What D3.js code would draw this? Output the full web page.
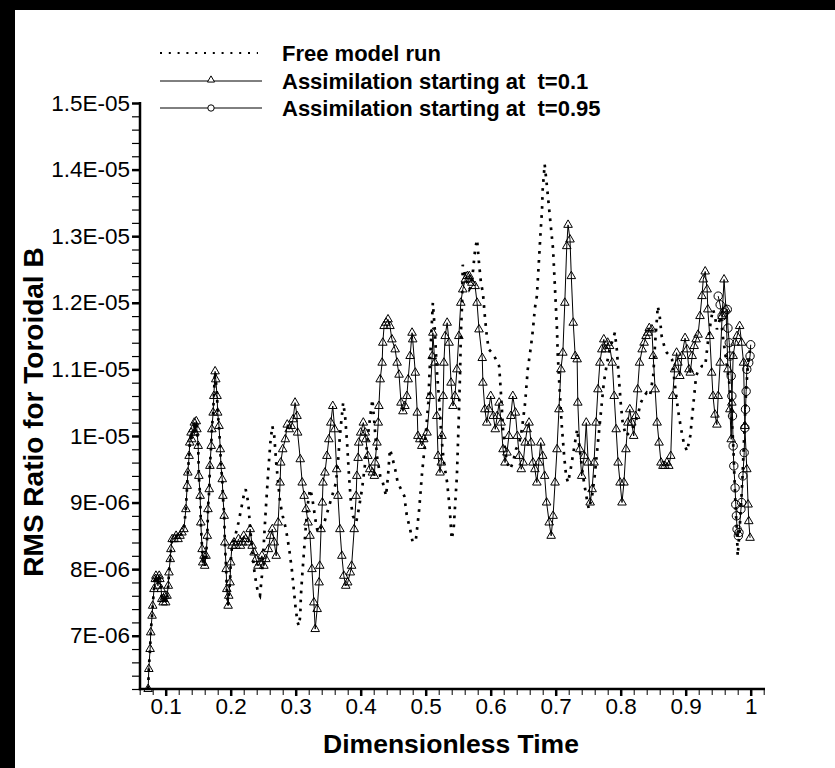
<!DOCTYPE html>
<html>
<head>
<meta charset="utf-8">
<script src="https://cdn.jsdelivr.net/npm/d3@7"></script>
<style>
  body { margin: 0; background: #fff; }
  svg { display: block; }
  text { font-family: "Liberation Sans", Arial, Helvetica, sans-serif; fill: #000; white-space: pre; }
</style>
</head>
<body>
<svg id="chart" width="835" height="768"></svg>
<script>
// RMS values are given in units of 1e-6.
const RMS_UNIT = 1e-6;

// Free model run: [dimensionless time, RMS ratio]
const freeRun = [
  [.073,6.2],[.074,6.5],[.076,6.8],[.077,7.05],[.079,7.3],[.080,7.45],[.082,7.7],[.084,7.85],[.085,7.9],[.087,7.85],
  [.088,7.75],[.090,7.9],[.091,7.85],[.093,7.7],[.094,7.55],[.096,7.5],[.097,7.55],[.099,7.6],[.100,7.5],[.102,7.6],
  [.104,7.75],[.105,7.95],[.107,8.15],[.108,8.3],[.110,8.45],[.113,8.45],[.116,8.5],[.119,8.45],[.122,8.5],[.125,8.55],
  [.128,8.6],[.131,8.9],[.133,9.25],[.134,9.45],[.136,9.7],[.137,9.9],[.139,10.05],[.140,9.95],[.142,10.1],[.144,10.2],
  [.145,10.05],[.147,10.22],[.148,10.1],[.150,9.85],[.151,9.4],[.153,9.1],[.154,8.7],[.156,8.3],[.157,8.1],[.159,8.2],
  [.160,8.05],[.162,8.2],[.164,8.5],[.165,8.9],[.167,9.2],[.168,9.55],[.170,9.85],[.171,10.1],[.173,10.35],[.174,10.6],
  [.176,10.97],[.177,10.85],[.179,10.6],[.180,10.35],[.182,10.15],[.184,9.8],[.185,9.55],[.187,9.35],[.188,9.1],[.190,8.8],
  [.191,8.4],[.193,8.0],[.194,7.7],[.196,7.45],[.197,7.6],[.199,7.8],[.200,8.1],[.202,8.35],[.207,8.5],[.212,8.7],
  [.216,8.9],[.220,9.1],[.223,9.2],[.227,9.0],[.230,8.6],[.233,8.3],[.236,8.0],[.239,7.8],[.242,7.65],[.245,7.6],
  [.248,7.9],[.251,8.4],[.254,8.9],[.258,9.5],[.261,9.9],[.264,10.15],[.267,10.0],[.270,9.6],[.273,9.3],[.276,9.0],
  [.280,8.8],[.285,8.6],[.290,8.3],[.294,8.0],[.297,7.7],[.300,7.4],[.303,7.2],[.305,7.15],[.307,7.3],[.308,7.6],
  [.310,7.9],[.313,8.3],[.316,8.7],[.319,9.0],[.322,9.2],[.325,9.1],[.328,8.9],[.331,8.7],[.334,8.55],[.337,8.6],
  [.344,8.7],[.350,8.9],[.356,9.1],[.362,9.3],[.365,9.6],[.368,10.0],[.371,10.3],[.373,10.5],[.376,10.3],[.379,9.9],
  [.382,9.4],[.385,9.0],[.388,8.8],[.393,8.7],[.397,8.9],[.402,9.2],[.407,9.6],[.411,10.0],[.416,10.4],[.418,10.55],
  [.421,10.2],[.425,9.7],[.430,9.4],[.434,9.3],[.439,9.1],[.442,9.4],[.445,9.8],[.448,9.7],[.453,9.5],[.457,9.3],
  [.462,9.2],[.467,9.1],[.471,8.8],[.476,8.6],[.480,8.4],[.485,8.45],[.490,8.9],[.494,9.4],[.499,9.9],[.504,10.5],
  [.507,11.2],[.510,11.8],[.511,12.0],[.514,11.6],[.517,11.0],[.521,10.5],[.524,10.0],[.528,9.6],[.533,9.3],[.537,8.9],
  [.540,8.45],[.543,8.6],[.548,9.4],[.551,10.3],[.553,11.0],[.554,11.5],[.556,12.0],[.557,12.57],[.561,12.4],[.564,12.3],
  [.567,12.2],[.570,12.25],[.573,12.5],[.576,12.8],[.579,12.95],[.582,12.6],[.585,12.3],[.588,12.15],[.591,11.8],[.594,11.5],
  [.597,11.3],[.602,11.25],[.607,11.17],[.610,11.1],[.613,11.05],[.616,10.6],[.619,10.1],[.622,9.8],[.625,9.6],[.630,9.5],
  [.634,9.6],[.639,9.8],[.644,9.9],[.648,10.1],[.653,10.5],[.657,11.0],[.662,11.35],[.665,11.6],[.668,11.92],[.671,12.1],
  [.674,12.6],[.677,13.1],[.679,13.4],[.680,13.7],[.682,13.95],[.683,14.08],[.686,13.8],[.690,13.4],[.693,13.1],[.696,12.8],
  [.699,12.2],[.702,11.6],[.703,11.25],[.706,10.7],[.709,10.2],[.713,9.7],[.716,9.4],[.719,9.3],[.723,9.5],[.728,9.8],
  [.733,10.1],[.737,9.8],[.742,9.4],[.747,9.1],[.751,8.9],[.756,9.1],[.760,9.4],[.765,9.9],[.770,10.4],[.774,10.8],
  [.779,11.1],[.783,11.3],[.788,11.45],[.791,11.55],[.794,11.3],[.797,10.9],[.800,10.5],[.803,10.2],[.808,10.0],[.813,10.05],
  [.817,10.1],[.822,10.2],[.826,10.3],[.831,10.5],[.836,10.6],[.840,10.65],[.845,10.6],[.850,10.9],[.853,11.4],[.856,11.8],
  [.857,11.95],[.860,11.8],[.863,11.5],[.867,11.35],[.871,11.25],[.876,11.2],[.879,11.15],[.883,10.8],[.888,10.4],[.893,10.1],
  [.897,9.9],[.902,9.77],[.907,10.0],[.911,10.4],[.916,10.9],[.920,11.0],[.925,11.05],[.930,11.05],[.934,11.4],[.939,11.75],
  [.942,11.9],[.945,11.8],[.948,11.6],[.951,11.7],[.954,11.8],[.957,11.5],[.960,11.3],[.964,11.0],[.967,10.8],[.970,10.4],
  [.973,9.9],[.976,9.1],[.979,8.5],[.980,8.2],[.983,8.6],[.987,9.3],[.990,10.0],[.993,10.7],[.996,11.1],[.999,11.3]
];

// Assimilation starting at t=0.1
const assimFrom010 = [
  [.073,6.2],[.074,6.5],[.076,6.8],[.077,7.05],[.079,7.3],[.080,7.45],[.082,7.7],[.084,7.85],[.085,7.9],[.087,7.85],
  [.088,7.75],[.090,7.9],[.091,7.85],[.093,7.7],[.094,7.55],[.096,7.5],[.097,7.55],[.099,7.6],[.100,7.5],[.102,7.6],
  [.104,7.75],[.105,7.95],[.107,8.15],[.108,8.3],[.110,8.45],[.113,8.45],[.116,8.5],[.119,8.45],[.122,8.5],[.125,8.55],
  [.128,8.6],[.131,8.9],[.133,9.25],[.134,9.45],[.136,9.7],[.137,9.9],[.139,10.05],[.140,9.95],[.142,10.1],[.144,10.2],
  [.145,10.05],[.147,10.22],[.148,10.1],[.150,9.85],[.151,9.4],[.153,9.1],[.154,8.7],[.156,8.3],[.157,8.1],[.159,8.2],
  [.160,8.05],[.162,8.2],[.164,8.5],[.165,8.9],[.167,9.2],[.168,9.55],[.170,9.85],[.171,10.1],[.173,10.35],[.174,10.6],
  [.176,10.97],[.177,10.85],[.179,10.6],[.180,10.35],[.182,10.15],[.184,9.8],[.185,9.55],[.187,9.35],[.188,9.1],[.190,8.8],
  [.191,8.4],[.193,8.0],[.194,7.7],[.196,7.45],[.197,7.6],[.199,7.8],[.200,8.1],[.202,8.35],[.205,8.4],[.208,8.35],
  [.212,8.45],[.215,8.35],[.218,8.4],[.220,8.5],[.223,8.45],[.227,8.4],[.230,8.6],[.233,8.35],[.236,8.25],[.239,8.15],
  [.242,8.05],[.245,8.1],[.248,8.2],[.251,8.05],[.254,8.15],[.258,8.3],[.261,8.5],[.264,8.6],[.267,8.4],[.270,8.2],
  [.273,8.7],[.276,9.3],[.277,9.6],[.280,9.8],[.284,9.95],[.287,10.17],[.290,10.1],[.293,10.15],[.296,10.25],[.299,10.5],
  [.302,10.3],[.303,10.05],[.307,9.65],[.310,9.3],[.313,9.1],[.316,8.9],[.319,8.7],[.322,8.5],[.325,8.0],[.328,7.5],
  [.330,7.1],[.333,7.4],[.336,7.8],[.337,8.05],[.339,8.6],[.341,9.0],[.342,9.3],[.345,9.45],[.348,9.7],[.351,9.95],
  [.354,10.2],[.357,10.45],[.360,10.1],[.363,9.5],[.365,9.1],[.368,8.6],[.371,8.2],[.374,7.9],[.377,7.75],[.380,7.8],
  [.384,7.95],[.386,8.05],[.390,8.6],[.393,9.1],[.394,9.4],[.396,9.67],[.397,9.9],[.400,10.05],[.404,10.2],[.407,10.05],
  [.408,9.95],[.411,9.7],[.414,9.5],[.418,9.45],[.421,9.4],[.422,9.6],[.425,9.9],[.427,10.2],[.428,10.45],[.430,10.85],
  [.433,11.1],[.434,11.4],[.436,11.65],[.439,11.7],[.442,11.75],[.445,11.65],[.448,11.45],[.453,11.3],[.456,11.1],[.459,10.92],
  [.462,10.5],[.465,10.37],[.468,10.45],[.471,10.6],[.473,10.85],[.476,11.2],[.479,11.55],[.480,11.45],[.484,10.95],[.487,10.35],
  [.488,10.0],[.491,9.95],[.494,9.85],[.497,9.95],[.502,10.05],[.507,10.6],[.510,11.2],[.511,11.55],[.514,11.1],[.517,10.3],
  [.519,9.7],[.522,9.45],[.524,9.6],[.525,10.0],[.527,10.6],[.528,11.1],[.530,11.5],[.533,11.7],[.536,11.4],[.539,10.8],
  [.542,10.45],[.545,10.6],[.548,11.0],[.551,11.5],[.554,12.0],[.557,12.2],[.561,12.35],[.564,12.4],[.567,12.4],[.568,12.35],
  [.571,12.3],[.576,12.25],[.579,12.0],[.582,11.6],[.587,11.17],[.588,10.8],[.591,10.4],[.594,10.2],[.597,10.4],[.600,10.6],
  [.604,10.3],[.607,10.1],[.610,10.3],[.613,10.5],[.616,10.2],[.619,9.8],[.622,9.6],[.625,9.75],[.628,10.0],[.631,10.3],
  [.634,10.6],[.638,10.35],[.641,10.0],[.644,9.7],[.647,9.5],[.650,9.6],[.653,9.9],[.656,10.1],[.659,10.2],[.662,9.9],
  [.665,9.6],[.668,9.5],[.671,9.3],[.674,9.6],[.677,9.9],[.680,9.7],[.683,9.4],[.686,9.0],[.690,8.7],[.693,8.5],
  [.696,8.8],[.699,9.3],[.702,9.8],[.705,10.4],[.708,11.0],[.711,11.25],[.714,12.0],[.717,12.85],[.719,13.17],[.722,12.95],
  [.724,12.4],[.727,11.7],[.730,11.2],[.733,11.15],[.734,10.5],[.737,9.8],[.740,9.4],[.744,9.7],[.747,10.2],[.750,9.6],
  [.753,9.0],[.756,9.2],[.759,9.6],[.762,10.2],[.765,10.7],[.768,11.1],[.771,11.3],[.774,11.45],[.777,11.3],[.780,11.4],
  [.783,11.35],[.787,11.1],[.790,10.6],[.793,10.1],[.796,9.6],[.799,9.3],[.802,9.0],[.805,9.3],[.808,9.8],[.811,10.2],
  [.814,10.4],[.817,10.2],[.820,10.0],[.823,10.3],[.826,10.7],[.829,11.1],[.833,11.3],[.836,11.4],[.839,11.5],[.842,11.55],
  [.844,11.62],[.848,11.6],[.850,11.2],[.853,10.7],[.856,10.2],[.859,9.9],[.862,9.6],[.865,9.55],[.868,9.55],[.871,9.6],
  [.874,9.55],[.877,9.7],[.880,10.6],[.883,11.0],[.886,11.25],[.888,11.1],[.891,10.9],[.894,11.2],[.899,11.47],[.902,11.3],
  [.905,11.0],[.907,10.95],[.910,11.2],[.913,11.35],[.916,11.45],[.919,11.52],[.922,11.8],[.925,12.1],[.927,12.35],[.930,12.47],
  [.933,12.2],[.934,11.9],[.937,11.5],[.940,10.95],[.942,10.6],[.945,10.32],[.948,10.17],[.950,10.6],[.953,11.1],[.956,11.8],
  [.959,12.35],[.962,11.9],[.965,11.0],[.968,10.4],[.970,9.95],[.971,10.5],[.973,11.2],[.976,11.4],[.979,11.5],[.983,11.65],
  [.986,11.4],[.989,11.1],[.991,10.15],[.994,9.5],[.996,8.97],[.997,8.72],[.999,8.47]
];

// Assimilation starting at t=0.95
const assimFrom095 = [
  [.950,12.1],[.953,11.97],[.956,11.8],[.959,11.85],[.964,11.9],[.965,11.62],[.967,11.4],[.968,11.2],[.970,10.9],[.971,10.6],
  [.972,10.3],[.973,9.85],[.974,9.55],[.976,9.22],[.977,8.97],[.978,8.8],[.979,8.6],[.981,8.5],[.982,8.55],[.985,8.9],
  [.986,9.0],[.988,9.4],[.990,9.75],[.991,10.12],[.992,10.4],[.993,10.67],[.994,11.0],[.997,11.1],[.999,11.2],[1.000,11.37]
];

const seriesNames = ["Free model run", "Assimilation starting at  t=0.1", "Assimilation starting at  t=0.95"];

const xMajorTicks = [0.1, 0.2, 0.3, 0.4, 0.5, 0.6, 0.7, 0.8, 0.9, 1];
const xTickLabels = ["0.1", "0.2", "0.3", "0.4", "0.5", "0.6", "0.7", "0.8", "0.9", "1"];
const yMajorTicks = [7, 8, 9, 10, 11, 12, 13, 14, 15];
const yTickLabels = ["7E-06", "8E-06", "9E-06", "1E-05", "1.1E-05", "1.2E-05", "1.3E-05", "1.4E-05", "1.5E-05"];

const xTitle = "Dimensionless Time";
const yTitle = "RMS Ratio for Toroidal B";

// ---- drawing ----
const svg = d3.select("#chart");

// dark frame strips along the top and left edges
svg.append("rect").attr("x", 0).attr("y", 0).attr("width", 835).attr("height", 10).attr("fill", "#000");
svg.append("rect").attr("x", 0).attr("y", 0).attr("width", 15).attr("height", 768).attr("fill", "#000");

const x = d3.scaleLinear().domain([0.06, 1.022]).range([139.7, 765]);
const y = d3.scaleLinear().domain([6.2 * RMS_UNIT, 15 * RMS_UNIT]).range([689, 103]);

const px = d => x(d[0]);
const py = d => y(d[1] * RMS_UNIT);

// minor tick positions
const xMinor = d3.range(0.06, 1.0221, 0.02).filter(v => !xMajorTicks.some(m => Math.abs(m - v) < 1e-6));
const yMinor = d3.range(6.2, 15.001, 0.2).filter(v => !yMajorTicks.some(m => Math.abs(m - v) < 1e-6));

const tickFont = 22.5;

// x axis
const gx = svg.append("g").attr("transform", "translate(0,689)");
gx.append("g").call(
  d3.axisBottom(x).tickValues(xMinor).tickSize(6).tickFormat("").tickSizeOuter(0)
).call(g => { g.select(".domain").remove(); g.selectAll("line").attr("stroke-width", 1); });
gx.append("g").call(
  d3.axisBottom(x).tickValues(xMajorTicks).tickSize(7).tickPadding(2)
    .tickFormat((d, i) => xTickLabels[i]).tickSizeOuter(0)
).call(g => {
  g.select(".domain").remove();
  g.selectAll("line").attr("stroke-width", 2.5);
  g.selectAll("text").attr("font-size", tickFont).attr("fill", "#000");
});

// y axis
const gy = svg.append("g").attr("transform", "translate(140,0)");
gy.append("g").call(
  d3.axisLeft(y).tickValues(yMinor.map(v => v * RMS_UNIT)).tickSize(8).tickFormat("").tickSizeOuter(0)
).call(g => { g.select(".domain").remove(); g.selectAll("line").attr("stroke-width", 1.2); });
gy.append("g").call(
  d3.axisLeft(y).tickValues(yMajorTicks.map(v => v * RMS_UNIT)).tickSize(8).tickPadding(2)
    .tickFormat((d, i) => yTickLabels[i]).tickSizeOuter(0)
).call(g => {
  g.select(".domain").remove();
  g.selectAll("line").attr("stroke-width", 2.5);
  g.selectAll("text").attr("font-size", tickFont).attr("fill", "#000");
});

// axis lines
svg.append("line").attr("x1", 140).attr("x2", 140).attr("y1", y(15 * RMS_UNIT) - 1).attr("y2", 690.2)
  .attr("stroke", "#000").attr("stroke-width", 2.5);
svg.append("line").attr("x1", 138.8).attr("x2", 765).attr("y1", 689).attr("y2", 689)
  .attr("stroke", "#000").attr("stroke-width", 2.5);

// axis titles
svg.append("text").attr("x", 451).attr("y", 753).attr("text-anchor", "middle")
  .attr("font-size", 26.5).attr("font-weight", "bold").text(xTitle);
svg.append("text").attr("transform", "translate(43,412) rotate(-90)").attr("text-anchor", "middle")
  .attr("font-size", 28).attr("font-weight", "bold").text(yTitle);

// series
const line = d3.line().x(px).y(py);
const plot = svg.append("g");

plot.append("path").datum(freeRun).attr("d", line).attr("fill", "none")
  .attr("stroke", "#000").attr("stroke-width", 2.7).attr("stroke-dasharray", "2.7 6.3");

const tri = d3.symbol().type(d3.symbolTriangle).size(32);
const circ = d3.symbol().type(d3.symbolCircle).size(55);

plot.append("path").datum(assimFrom010).attr("d", line).attr("fill", "none")
  .attr("stroke", "#000").attr("stroke-width", 1);
plot.append("g").selectAll("path").data(assimFrom010).join("path")
  .attr("d", tri).attr("transform", d => `translate(${px(d)},${py(d)})`)
  .attr("fill", "none").attr("stroke", "#000").attr("stroke-width", 1);

plot.append("path").datum(assimFrom095).attr("d", line).attr("fill", "none")
  .attr("stroke", "#000").attr("stroke-width", 1);
plot.append("g").selectAll("path").data(assimFrom095).join("path")
  .attr("d", circ).attr("transform", d => `translate(${px(d)},${py(d)})`)
  .attr("fill", "none").attr("stroke", "#000").attr("stroke-width", 1);

// legend
const legend = svg.append("g");
const rows = [53, 81, 108];
legend.append("line").attr("x1", 160).attr("x2", 258).attr("y1", rows[0]).attr("y2", rows[0])
  .attr("stroke", "#000").attr("stroke-width", 2).attr("stroke-dasharray", "2 6.8");
legend.append("line").attr("x1", 160).attr("x2", 262).attr("y1", rows[1]).attr("y2", rows[1])
  .attr("stroke", "#000").attr("stroke-width", 1);
legend.append("path").attr("d", d3.symbol().type(d3.symbolTriangle).size(22)())
  .attr("transform", `translate(211,${rows[1] - 1})`).attr("fill", "#fff").attr("stroke", "#000").attr("stroke-width", 1);
legend.append("line").attr("x1", 160).attr("x2", 262).attr("y1", rows[2]).attr("y2", rows[2])
  .attr("stroke", "#000").attr("stroke-width", 1);
legend.append("circle").attr("cx", 211).attr("cy", rows[2]).attr("r", 3.2)
  .attr("fill", "#fff").attr("stroke", "#000").attr("stroke-width", 1);
legend.selectAll("text.lg").data(seriesNames).join("text").attr("class", "lg")
  .attr("x", 282).attr("y", (d, i) => rows[i]).attr("dy", "0.36em")
  .attr("font-size", 22).attr("font-weight", "bold").attr("xml:space", "preserve").text(d => d);
</script>
</body>
</html>
